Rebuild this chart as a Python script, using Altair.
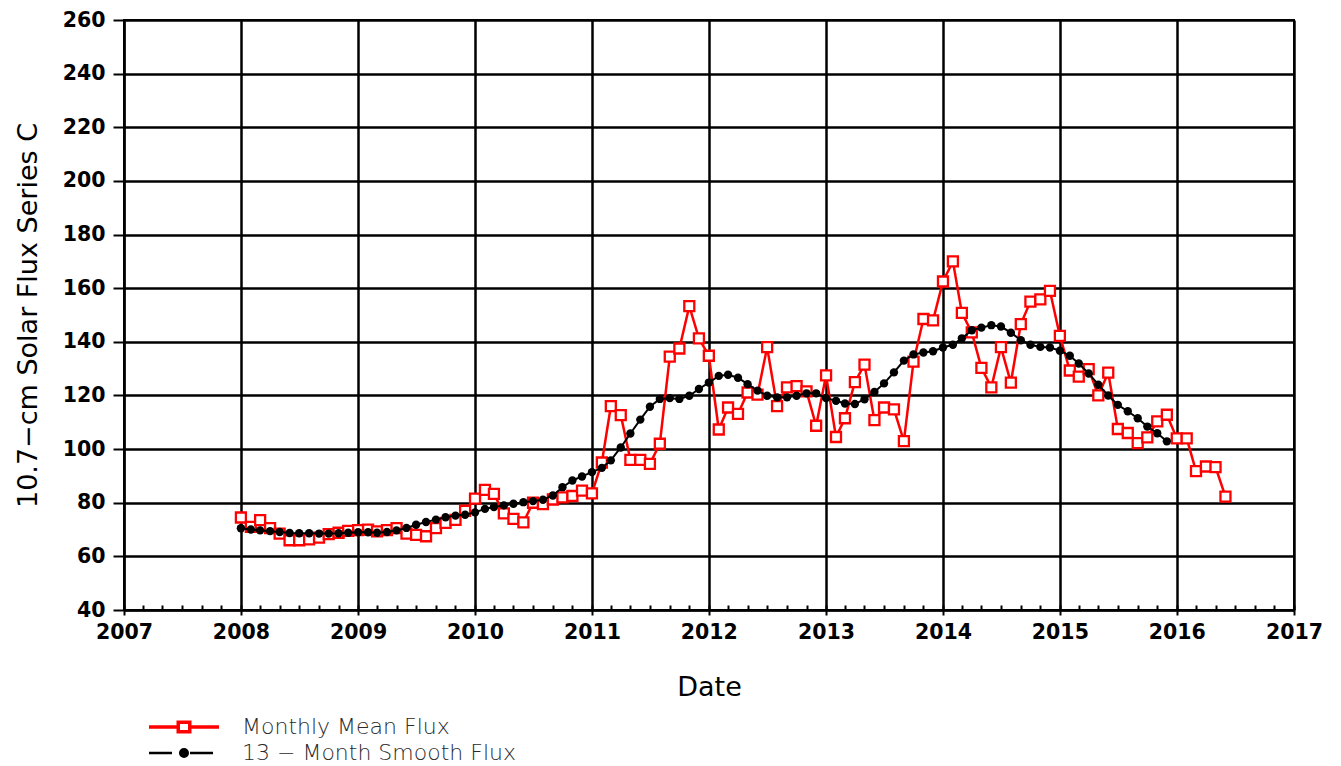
import altair as alt
import pandas as pd

# ---- data (Jan 2008 onward, one value per month) ----
monthly_mean = [
    74.5, 71.0, 73.5, 70.5, 68.5, 66.0, 66.0, 66.3, 67.0, 68.3, 68.8, 69.5,          # 2008
    69.8, 70.0, 69.3, 69.8, 70.5, 68.5, 68.0, 67.5, 70.5, 72.5, 73.6, 77.0,          # 2009
    81.5, 84.8, 83.3, 76.0, 74.0, 72.7, 80.0, 79.5, 81.2, 82.0, 82.5, 84.5,          # 2010
    83.5, 95.0, 116.0, 112.7, 96.0, 96.0, 94.5, 102.0, 134.5, 137.5, 153.3, 141.3,   # 2011
    134.8, 107.3, 115.5, 113.1, 121.1, 120.3, 138.0, 116.0, 123.0, 123.5, 121.5, 108.7,  # 2012
    127.5, 104.5, 111.5, 125.0, 131.5, 110.8, 115.5, 114.8, 103.0, 132.6, 148.5, 148.0,  # 2013
    162.5, 170.0, 150.8, 143.5, 130.3, 123.0, 138.0, 124.8, 146.6, 155.0, 155.8, 159.0,  # 2014
    142.2, 129.3, 127.0, 129.8, 120.0, 128.5, 107.5, 106.0, 102.2, 104.4, 110.3, 112.8,  # 2015
    104.0, 104.0, 91.8, 93.5, 93.3, 82.3,                                               # 2016
]
smooth_13 = [
    70.5, 70.0, 69.7, 69.4, 69.1, 68.7, 68.6, 68.6, 68.5, 68.5, 68.6, 68.8,          # 2008
    69.0, 69.0, 68.8, 69.1, 69.7, 70.6, 71.8, 72.8, 73.7, 74.6, 75.2, 75.5,          # 2009
    76.4, 77.7, 78.4, 79.0, 79.6, 80.2, 80.6, 81.1, 82.7, 85.8, 88.3, 89.8,          # 2010
    91.4, 93.0, 95.8, 100.6, 105.8, 111.0, 115.8, 118.7, 119.0, 118.7, 119.9, 122.4, # 2011
    124.8, 127.3, 127.7, 126.6, 124.2, 121.8, 119.9, 119.3, 119.3, 119.9, 120.8, 120.8,  # 2012
    119.0, 118.0, 117.0, 116.8, 118.6, 121.3, 124.5, 128.6, 133.0, 135.3, 136.0, 136.5,  # 2013
    137.9, 138.9, 141.3, 144.3, 145.3, 146.2, 145.7, 143.4, 140.6, 138.9, 138.1, 137.9,  # 2014
    136.7, 134.8, 131.9, 128.2, 124.0, 120.0, 116.5, 114.1, 111.5, 108.4, 105.9, 102.9,  # 2015
]
series_names = ["Monthly Mean Flux", "13 \u2212 Month Smooth Flux"]
series_colors = ["red", "black"]
first_month = "2008-01-01"
y_ticks = list(range(40, 261, 20))

dates_m = pd.date_range(first_month, periods=len(monthly_mean), freq="MS")
dates_s = pd.date_range(first_month, periods=len(smooth_13), freq="MS")
df = pd.concat([
    pd.DataFrame({"date": dates_m, "flux": monthly_mean, "series": series_names[0]}),
    pd.DataFrame({"date": dates_s, "flux": smooth_13, "series": series_names[1]}),
], ignore_index=True)

FONT = "DejaVu Sans"
PLOT_W, PLOT_H = 1170, 590

x_scale = alt.Scale(domain=[alt.DateTime(year=2007, month=1, date=1),
                            alt.DateTime(year=2017, month=1, date=1)], nice=False)
y_scale = alt.Scale(domain=[40, 260], nice=False, zero=False)

main_x_axis = alt.Axis(
    orient="bottom", tickCount=alt.TimeIntervalStep(interval="year", step=1), format="%Y",
    labelFont=FONT, labelFontWeight="bold", labelFontSize=20.5, labelColor="black",
    labelPadding=7, labelFlush=False, labelOverlap=False,
    tickSize=5, tickWidth=2, tickColor="black",
    domainColor="black", domainWidth=2,
    grid=True, gridColor="black", gridWidth=2.5, gridOpacity=1,
    title="Date", titleFont=FONT, titleFontSize=27, titleFontWeight="normal",
    titleColor="black", titleY=85, titleBaseline="alphabetic",
)
minor_x_axis = alt.Axis(
    orient="top", offset=-PLOT_H, tickCount=alt.TimeIntervalStep(interval="month", step=2),
    labels=False, domain=False, grid=False, ticks=True, tickSize=5, tickWidth=2,
    tickColor="black", title=None,
)
y_axis = alt.Axis(
    values=y_ticks, labelFont=FONT, labelFontWeight="bold", labelFontSize=20.5,
    labelColor="black", labelPadding=8, labelFlush=False,
    tickSize=11, tickWidth=2, tickColor="black",
    domainColor="black", domainWidth=2,
    grid=True, gridColor="black", gridWidth=2.5, gridOpacity=1,
    title="10.7\u2212cm Solar Flux Series C", titleFont=FONT, titleFontSize=27,
    titleFontWeight="normal", titleColor="black",
    titleX=-88, titleY=PLOT_H / 2, titleBaseline="alphabetic",
)

# legend glyphs (custom symbol paths: line + marker)
RED_PATH = "M-7,0H-1.15M1.15,0H7M-1.15,-0.95H1.15V0.95H-1.15Z"
BLK_PATH = "M-7,0H-2.4M1.2,0H5.8M-0.75,0A0.75,0.75,0,1,0,0.75,0A0.75,0.75,0,1,0,-0.75,0Z"

legend_common = dict(
    orient="none", legendX=49, direction="vertical", title=None,
    labelFont=FONT, labelFontSize=22, labelColor="#2a2a2a", labelFontWeight=300,
    labelOffset=47, labelLimit=600,
    symbolSize=100, padding=0, symbolOpacity=1,
)
red_legend = alt.Legend(legendY=696, symbolType=RED_PATH, symbolStrokeWidth=3.5,
                        symbolStrokeColor="red", symbolFillColor="transparent",
                        **legend_common)
blk_legend = alt.Legend(legendY=722, symbolType=BLK_PATH, symbolStrokeWidth=2.5,
                        symbolStrokeColor="black", symbolFillColor="black",
                        **legend_common)

red_color = alt.Color("series:N", scale=alt.Scale(domain=[series_names[0]],
                                                  range=[series_colors[0]]),
                      legend=red_legend)
blk_color = alt.Color("series:N", scale=alt.Scale(domain=[series_names[1]],
                                                  range=[series_colors[1]]),
                      legend=blk_legend)

base = alt.Chart(df)
y_enc = alt.Y("flux:Q", scale=y_scale, axis=y_axis)
red_df = base.transform_filter(alt.datum.series == series_names[0])
blk_df = base.transform_filter(alt.datum.series == series_names[1])

red_line = red_df.mark_line(strokeWidth=2.5).encode(
    x=alt.X("date:T", scale=x_scale, axis=main_x_axis), y=y_enc, color=red_color)
red_pts = red_df.mark_point(
    shape="square", size=100, filled=False, fill="white", stroke=series_colors[0],
    strokeWidth=2.3, opacity=1).encode(
    x=alt.X("date:T", scale=x_scale, axis=minor_x_axis), y=y_enc)
blk_line = blk_df.mark_line(strokeWidth=2, color=series_colors[1]).encode(
    x=alt.X("date:T", scale=x_scale, axis=None), y=y_enc)
blk_pts = blk_df.mark_circle(size=70, opacity=1).encode(
    x=alt.X("date:T", scale=x_scale, axis=None), y=y_enc, color=blk_color)

chart = alt.layer(red_line, red_pts, blk_line, blk_pts).resolve_axis(
    x="independent"
).resolve_scale(color="independent").properties(
    width=PLOT_W, height=PLOT_H,
    autosize=alt.AutoSizeParams(type="none"),
    padding={"left": 116, "top": 12, "right": 30, "bottom": 156},
    background="white",
).configure_view(stroke="black", strokeWidth=2)

chart.save("out.html", embed_options={"renderer": "svg", "actions": False})
